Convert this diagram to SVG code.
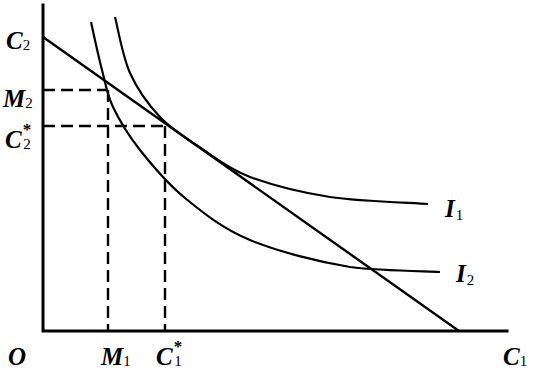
<svg xmlns="http://www.w3.org/2000/svg" width="534" height="373" viewBox="0 0 534 373">
<style>
.ax{stroke:#000;stroke-width:3;fill:none;stroke-linecap:square}
.ln{stroke:#000;stroke-width:2.4;fill:none}
.cv{stroke:#000;stroke-width:2.2;fill:none}
.ds{stroke:#000;stroke-width:2.4;fill:none;stroke-dasharray:12 6}
.lab{font-family:"Liberation Serif",serif;font-style:italic;font-weight:bold;font-size:25px;fill:#000}
.sub{font-style:normal;font-weight:normal;font-size:15px}
.st{font-style:normal;font-weight:bold;font-size:17px}
</style>
<rect width="534" height="373" fill="#fff"/>
<g id="axes">
<path class="ax" d="M43 5 V331 H507"/>
</g>
<g id="connectors">
<path id="budget" class="ln" d="M43 37 L459 331"/>
<path class="ds" d="M43 90 H108 M108 90 V331"/>
<path class="ds" d="M43 126 H165 M165 126 V331"/>
</g>
<g id="I1">
<path class="cv" d="M115 17 C117.5 26.3 122.5 56.3 130 73 C137.5 89.7 148.3 104.6 160 117 C171.7 129.4 185 137.5 200 147.5 C215 157.5 228.3 168.75 250 177 C271.7 185 300.3 192.5 330 197 C359.7 201.5 411.7 202.8 428 204"/>
<text class="lab" x="445" y="217">I<tspan class="sub" dx="1" dy="3">1</tspan></text>
</g>
<g id="I2">
<path class="cv" d="M91 22 C92.8 30 98.3 55.8 102 70 C105.7 84.2 106.7 93.7 113 107 C119.3 120.3 128 134.8 140 150 C152 165.2 166.7 183 185 198 C203.3 213 222.5 228.5 250 240 C277.5 251.5 318.3 261.7 350 267 C381.7 271 425 271.2 440 272"/>
<text class="lab" x="456" y="282">I<tspan class="sub" dx="1" dy="3">2</tspan></text>
</g>
<g id="yLabels">
<text class="lab" x="6" y="49">C<tspan class="sub" dy="1">2</tspan></text>
<text class="lab" x="3" y="107">M<tspan class="sub" dy="1">2</tspan></text>
<text class="lab" x="5" y="148">C<tspan class="st" dx="1" dy="-13">*</tspan><tspan class="sub" dx="-8" dy="14">2</tspan></text>
</g>
<g id="xLabels">
<text class="lab" x="8" y="365">O</text>
<text class="lab" x="101" y="365">M<tspan class="sub" dy="1">1</tspan></text>
<text class="lab" x="156" y="365">C<tspan class="st" dx="1" dy="-13">*</tspan><tspan class="sub" dx="-8" dy="14">1</tspan></text>
<text class="lab" x="503" y="365">C<tspan class="sub" dy="1">1</tspan></text>
</g>
</svg>
